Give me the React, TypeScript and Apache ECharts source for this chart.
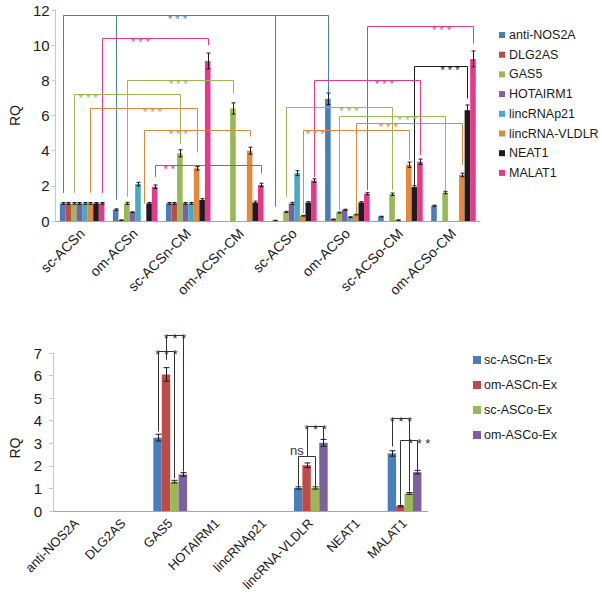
import React, { useEffect, useRef } from 'react';
import * as echarts from 'echarts';

// ---------- Top panel data ----------
const topCategories = ['sc-ACSn', 'om-ACSn', 'sc-ACSn-CM', 'om-ACSn-CM', 'sc-ACSo', 'om-ACSo', 'sc-ACSo-CM', 'om-ACSo-CM'];
const topSeriesNames = ['anti-NOS2A', 'DLG2AS', 'GAS5', 'HOTAIRM1', 'lincRNAp21', 'lincRNA-VLDLR', 'NEAT1', 'MALAT1'];
const antiNOS2A = [1.0, 0.65, 1.0, 0, 0.03, 6.95, 0.25, 0.87];
const DLG2AS = [1.0, 0.05, 1.0, 0, 0, 0.1, 0, 0];
const GAS5 = [1.0, 1.0, 3.85, 6.4, 0.52, 0.48, 1.52, 1.62];
const HOTAIRM1 = [1.0, 0.5, 1.0, 0, 1.0, 0.64, 0.05, 0];
const lincRNAp21 = [1.0, 2.1, 1.0, 0, 2.72, 0.22, 0, 0];
const lincRNA_VLDLR = [1.0, 0, 3.0, 4.0, 0.3, 0.37, 3.2, 2.62];
const NEAT1 = [1.0, 1.0, 1.2, 1.05, 1.05, 1.05, 1.93, 6.3];
const MALAT1 = [1.0, 1.95, 9.1, 2.05, 2.3, 1.55, 3.37, 9.22];

const antiNOS2A_err = [0.05, 0.04, 0.05, 0, 0.01, 0.33, 0.02, 0.03];
const DLG2AS_err = [0.05, 0.01, 0.05, 0, 0, 0.01, 0, 0];
const GAS5_err = [0.05, 0.06, 0.2, 0.32, 0.03, 0.03, 0.07, 0.07];
const HOTAIRM1_err = [0.05, 0.02, 0.05, 0, 0.06, 0.03, 0.01, 0];
const lincRNAp21_err = [0.05, 0.1, 0.05, 0, 0.14, 0.02, 0, 0];
const lincRNA_VLDLR_err = [0.05, 0, 0.1, 0.2, 0.02, 0.02, 0.15, 0.1];
const NEAT1_err = [0.05, 0.05, 0.07, 0.08, 0.05, 0.05, 0.08, 0.3];
const MALAT1_err = [0.05, 0.1, 0.45, 0.1, 0.1, 0.06, 0.15, 0.45];

const topValues = [antiNOS2A, DLG2AS, GAS5, HOTAIRM1, lincRNAp21, lincRNA_VLDLR, NEAT1, MALAT1];
const topErrors = [antiNOS2A_err, DLG2AS_err, GAS5_err, HOTAIRM1_err, lincRNAp21_err, lincRNA_VLDLR_err, NEAT1_err, MALAT1_err];

// brackets: legs = [categoryIndex, seriesIndex, legBottomValue], top = bracket value
const topBrackets = [
  { series: 0, legs: [[0, 0, 1.6], [1, 0, 1.2], [4, 0, 0.8], [5, 0, 7.3]], top: 11.7, label: '***', t: 0.43 },
  { series: 7, legs: [[0, 7, 1.6], [2, 7, 10.0]], top: 10.4, label: '***', t: 0.36 },
  { series: 2, legs: [[1, 2, 1.38], [3, 2, 7.25]], top: 8.0, label: '***', t: 0.48 },
  { series: 2, legs: [[0, 2, 1.6], [2, 2, 4.4]], top: 7.2, label: '***', t: 0.13 },
  { series: 5, legs: [[0, 5, 1.6], [2, 5, 3.9]], top: 6.4, label: '***', t: 0.58 },
  { series: 5, legs: [[1, 5, 1.0], [3, 5, 4.8]], top: 5.17, label: '***', t: 0.32 },
  { series: 7, legs: [[1, 7, 2.5], [3, 7, 2.7]], top: 3.2, label: '**', t: 0.13 },
  { series: 7, legs: [[5, 7, 1.75], [7, 7, 10.1]], top: 11.08, label: '***', t: 0.7 },
  { series: 6, legs: [[6, 6, 2.05], [7, 6, 6.97]], top: 8.8, label: '***', t: 0.67 },
  { series: 7, legs: [[4, 7, 2.5], [6, 7, 3.75]], top: 8.0, label: '***', t: 0.66 },
  { series: 2, legs: [[4, 2, 1.38], [6, 2, 1.76]], top: 6.46, label: '***', t: 0.59 },
  { series: 2, legs: [[5, 2, 0.62], [7, 2, 1.76]], top: 6.0, label: '***', t: 0.64 },
  { series: 5, legs: [[4, 5, 0.45], [6, 5, 3.47]], top: 5.2, label: '***', t: 0.11 },
  { series: 5, legs: [[5, 5, 0.45], [7, 5, 3.2]], top: 5.6, label: '***', t: 0.3 },
];

// ---------- Bottom panel data ----------
const bottomCategories = ['anti-NOS2A', 'DLG2AS', 'GAS5', 'HOTAIRM1', 'lincRNAp21', 'lincRNA-VLDLR', 'NEAT1', 'MALAT1'];
const bottomSeriesNames = ['sc-ASCn-Ex', 'om-ASCn-Ex', 'sc-ASCo-Ex', 'om-ASCo-Ex'];
const scASCnEx = [0, 0, 3.25, 0, 0, 1.02, 0, 2.55];
const omASCnEx = [0, 0, 6.05, 0, 0, 2.03, 0, 0.21];
const scASCoEx = [0, 0, 1.3, 0, 0, 1.02, 0, 0.78];
const omASCoEx = [0, 0, 1.62, 0, 0, 3.02, 0, 1.72];
const scASCnEx_err = [0, 0, 0.15, 0, 0, 0.05, 0, 0.12];
const omASCnEx_err = [0, 0, 0.3, 0, 0, 0.1, 0, 0.03];
const scASCoEx_err = [0, 0, 0.06, 0, 0, 0.05, 0, 0.04];
const omASCoEx_err = [0, 0, 0.08, 0, 0, 0.15, 0, 0.08];
const bottomValues = [scASCnEx, omASCnEx, scASCoEx, omASCoEx];
const bottomErrors = [scASCnEx_err, omASCnEx_err, scASCoEx_err, omASCoEx_err];

const bottomBrackets = [
  { series: -1, legs: [[2, 0, 3.52], [2, 2, 1.45]], top: 7.1, label: '***', t: 0.5 },
  { series: -1, legs: [[2, 1, 6.7], [2, 3, 1.75]], top: 7.78, label: '***', t: 0.5 },
  { series: -1, legs: [[5, 0, 1.08], [5, 2, 1.08]], top: 2.44, label: 'ns', t: -0.1 },
  { series: -1, legs: [[5, 1, 2.44], [5, 3, 3.15]], top: 3.75, label: '***', t: 0.5 },
  { series: -1, legs: [[7, 0, 2.86], [7, 2, 0.86]], top: 4.12, label: '***', t: 0.5 },
  { series: -1, legs: [[7, 1, 0.27], [7, 3, 1.82]], top: 3.15, label: '***', t: 1.1 },
];

const topColors = ['#4a7ebb', '#be4b48', '#98b954', '#7d60a0', '#46aac5', '#e3893b', '#1c1c1c', '#e8388c'];
const bottomColors = ['#4a7ebb', '#be4b48', '#98b954', '#7d60a0'];
const FONT = '"Liberation Sans", Arial, Helvetica, sans-serif';

function barX(api: any, cat: number, s: number, n: number, gap: number) {
  const band = api.size([1, 0])[0];
  const usable = band * (1 - gap);
  const bw = usable / n;
  return api.coord([cat, 0])[0] - usable / 2 + (s + 0.5) * bw;
}

function errorSeries(values: number[][], errors: number[][], n: number, gap: number, gi: number, cap: number) {
  const data: number[][] = [];
  values.forEach((arr, s) => arr.forEach((v, c) => {
    if (v > 0 && errors[s][c] > 0) data.push([c, v, errors[s][c], s]);
  }));
  return {
    type: 'custom', xAxisIndex: gi, yAxisIndex: gi, clip: false, silent: true, z: 4,
    data,
    renderItem: (params: any, api: any) => {
      const c = api.value(0), v = api.value(1), e = api.value(2), s = api.value(3);
      const x = Math.round(barX(api, c, s, n, gap)) + 0.5;
      const y1 = api.coord([c, v + e])[1];
      const y2 = api.coord([c, Math.max(0, v - e)])[1];
      const st = { stroke: '#1a1a1a', lineWidth: 1 };
      return {
        type: 'group', children: [
          { type: 'line', shape: { x1: x, y1, x2: x, y2 }, style: st },
          { type: 'line', shape: { x1: x - cap, y1, x2: x + cap, y2: y1 }, style: st },
          { type: 'line', shape: { x1: x - cap, y1: y2, x2: x + cap, y2 }, style: st },
        ],
      };
    },
  };
}

function bracketSeries(brackets: any[], colors: string[], n: number, gap: number, gi: number, fontSize: number, dy: number) {
  return {
    type: 'custom', xAxisIndex: gi, yAxisIndex: gi, clip: false, silent: true, z: 5,
    data: brackets.map((b) => [b.legs[0][0], 0]),
    renderItem: (params: any, api: any) => {
      const b = brackets[params.dataIndex];
      const color = b.series >= 0 ? colors[b.series] : '#333333';
      const yTop = Math.round(api.coord([0, b.top])[1]) + 0.5;
      const xs = b.legs.map((l: number[]) => Math.round(barX(api, l[0], l[1], n, gap)) + 0.5);
      const st = { stroke: color, lineWidth: 1 };
      const children: any[] = [
        { type: 'line', shape: { x1: xs[0], y1: yTop, x2: xs[xs.length - 1], y2: yTop }, style: st },
      ];
      b.legs.forEach((l: number[], i: number) => {
        children.push({ type: 'line', shape: { x1: xs[i], y1: yTop, x2: xs[i], y2: api.coord([0, l[2]])[1] }, style: st });
      });
      const tx = xs[0] + (xs[xs.length - 1] - xs[0]) * b.t;
      const text = b.label.indexOf('*') >= 0 ? b.label.split('').join(' ') : b.label;
      const isStar = b.label.indexOf('*') >= 0;
      children.push({
        type: 'text', x: tx, y: yTop + (isStar ? dy : -6),
        style: { text, fill: color, font: `${fontSize}px ${FONT}`, align: 'center', verticalAlign: 'middle' },
      });
      return { type: 'group', children };
    },
  };
}

export default function App() {
  const ref = useRef<HTMLDivElement>(null);
  useEffect(() => {
    if (!ref.current) return;
    const chart = echarts.init(ref.current, null, { renderer: 'svg' });
    const axisGray = '#a6a6a6';
    const labelColor = '#1a1a1a';
    const topGap = 0.16;
    const botGap = 0.28;
    const option: any = {
      animation: false,
      backgroundColor: '#ffffff',
      textStyle: { fontFamily: FONT },
      grid: [
        { left: 50, top: 10, width: 430, height: 211 },
        { left: 51, top: 353, width: 377, height: 158 },
      ],
      legend: [
        {
          data: topSeriesNames, orient: 'vertical', left: 494, top: 23, icon: 'rect',
          itemWidth: 6, itemHeight: 6, itemGap: 5.7, padding: 5,
          textStyle: { fontSize: 12.5, color: labelColor, fontFamily: FONT, lineHeight: 14, padding: [0, 0, 0, -1] },
        },
        {
          data: bottomSeriesNames, orient: 'vertical', left: 468, top: 348, icon: 'rect',
          itemWidth: 8, itemHeight: 8, itemGap: 11, padding: 5,
          textStyle: { fontSize: 12.5, color: labelColor, fontFamily: FONT, lineHeight: 14, padding: [0, 0, 0, -2] },
        },
      ],
      xAxis: [
        {
          type: 'category', gridIndex: 0, data: topCategories,
          axisLine: { lineStyle: { color: axisGray } },
          axisTick: { length: 5, lineStyle: { color: axisGray } },
          axisLabel: { rotate: 45, interval: 0, fontSize: 14, color: labelColor, margin: 10, fontFamily: FONT },
        },
        {
          type: 'category', gridIndex: 1, data: bottomCategories,
          axisLine: { lineStyle: { color: axisGray } },
          axisTick: { length: 5, lineStyle: { color: axisGray } },
          axisLabel: { rotate: 45, interval: 0, fontSize: 13, color: labelColor, margin: 10, fontFamily: FONT },
        },
      ],
      yAxis: [
        {
          type: 'value', gridIndex: 0, min: 0, max: 12, interval: 2,
          axisLine: { show: true, lineStyle: { color: '#c8c8c8' } },
          axisTick: { show: true, length: 4, lineStyle: { color: '#c8c8c8' } },
          splitLine: { show: false },
          axisLabel: { fontSize: 15, color: labelColor, margin: 6, fontFamily: FONT },
          name: 'RQ', nameLocation: 'middle', nameGap: 31,
          nameTextStyle: { fontSize: 14, color: labelColor, fontFamily: FONT },
        },
        {
          type: 'value', gridIndex: 1, min: 0, max: 7, interval: 1,
          axisLine: { show: true, lineStyle: { color: '#c8c8c8' } },
          axisTick: { show: true, length: 4, lineStyle: { color: '#c8c8c8' } },
          splitLine: { show: false },
          axisLabel: { fontSize: 15, color: labelColor, margin: 11, fontFamily: FONT },
          name: 'RQ', nameLocation: 'middle', nameGap: 31,
          nameTextStyle: { fontSize: 14, color: labelColor, fontFamily: FONT, padding: [0, 32, 0, 0] },
        },
      ],
      series: [
        ...topSeriesNames.map((name, i) => ({
          type: 'bar', name, xAxisIndex: 0, yAxisIndex: 0, data: topValues[i],
          barGap: '0%', barCategoryGap: '16%',
          itemStyle: { color: topColors[i] },
        })),
        ...bottomSeriesNames.map((name, i) => ({
          type: 'bar', name, xAxisIndex: 1, yAxisIndex: 1, data: bottomValues[i],
          barGap: '0%', barCategoryGap: '28%',
          itemStyle: { color: bottomColors[i] },
        })),
        errorSeries(topValues, topErrors, 8, topGap, 0, 2),
        errorSeries(bottomValues, bottomErrors, 4, botGap, 1, 3),
        bracketSeries(topBrackets, topColors, 8, topGap, 0, 11, 3),
        bracketSeries(bottomBrackets, bottomColors, 4, botGap, 1, 13, 3),
      ],
    };
    chart.setOption(option);
    return () => chart.dispose();
  }, []);
  return (
    <div
      ref={ref}
      style={{ position: 'absolute', left: 0, top: 0, width: 602, height: 607, background: '#fff' }}
    />
  );
}
